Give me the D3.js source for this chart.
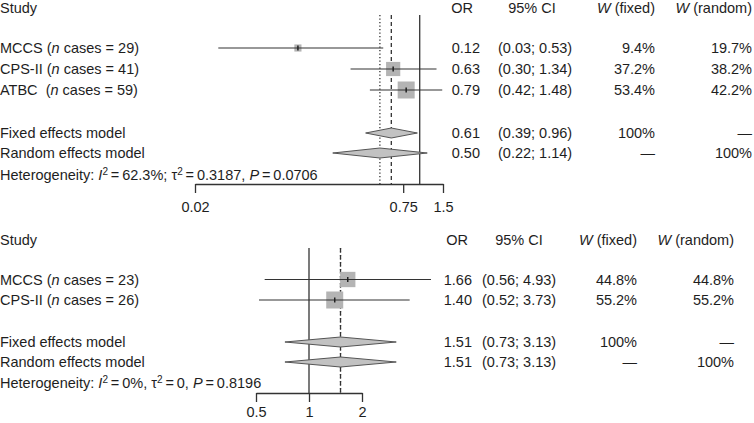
<!DOCTYPE html>
<html>
<head>
<meta charset="utf-8">
<script src="https://cdn.jsdelivr.net/npm/d3@7"></script>
<style>
  body { margin: 0; background: #fff; }
  svg text { font-family: "Liberation Sans", Arial, sans-serif; font-size: 14.5px; fill: #1e1e1e; white-space: pre; }
</style>
</head>
<body>
<div id="forest"></div>
<script>
// panel 1
var labels_one = ["MCCS ", "CPS-II ", "ATBC  "];
var cases_one = [29, 41, 59];
var or_one = [0.12, 0.63, 0.79];
var lower_one = [0.03, 0.30, 0.42];
var upper_one = [0.53, 1.34, 1.48];
var w_fixed_one = [9.4, 37.2, 53.4];
var w_random_one = [19.7, 38.2, 42.2];
var pooled_one = [[0.61, 0.39, 0.96], [0.50, 0.22, 1.14]];
var het_one = ["62.3%;", "0.3187,", "0.0706"];
var ticks_one = [0.02, 0.75, 1.5];

// panel 2
var labels_two = ["MCCS ", "CPS-II "];
var cases_two = [23, 26];
var or_two = [1.66, 1.40];
var lower_two = [0.56, 0.52];
var upper_two = [4.93, 3.73];
var w_fixed_two = [44.8, 55.2];
var w_random_two = [44.8, 55.2];
var pooled_two = [[1.51, 0.73, 3.13], [1.51, 0.73, 3.13]];
var het_two = ["0%,", "0,", "0.8196"];
var ticks_two = [0.5, 1, 2];

var svg = d3.select("#forest").append("svg")
            .attr("width", 754)
            .attr("height", 423);

draw_panel({
    labels: labels_one, cases: cases_one, or: or_one, lower: lower_one, upper: upper_one,
    w_fixed: w_fixed_one, w_random: w_random_one, pooled: pooled_one, het: het_one, ticks: ticks_one,
    range: [195, 443], header_y: 12.5, rows_y: [48, 69, 90], fixed_y: 133, random_y: 153,
    het_y: 175, axis_y: 184, line_top: 15, tick_pad: 9,
    cols: {or_right: 480, ci_left: 498, ci_head: 532, or_head: 462, wf_right: 655, wr_right: 752}
});

draw_panel({
    labels: labels_two, cases: cases_two, or: or_two, lower: lower_two, upper: upper_two,
    w_fixed: w_fixed_two, w_random: w_random_two, pooled: pooled_two, het: het_two, ticks: ticks_two,
    range: [256, 362], header_y: 245, rows_y: [279.5, 300], fixed_y: 342, random_y: 362,
    het_y: 383, axis_y: 393, line_top: 248, tick_pad: 5,
    cols: {or_right: 472, ci_left: 482, ci_head: 519, or_head: 457, wf_right: 637, wr_right: 734}
});

function fmt2(v) { return d3.format(".2f")(v); }

function draw_panel(p)
{
    var g = svg.append("g");
    var x = d3.scaleLog().domain([p.ticks[0], p.ticks[p.ticks.length - 1]]).range(p.range);
    var base = 5;

    // header
    g.append("text").attr("x", 0).attr("y", p.header_y).text("Study");
    g.append("text").attr("x", p.cols.or_head).attr("y", p.header_y).attr("text-anchor", "middle").text("OR");
    g.append("text").attr("x", p.cols.ci_head).attr("y", p.header_y).attr("text-anchor", "middle").text("95% CI");
    var hf = g.append("text").attr("x", p.cols.wf_right).attr("y", p.header_y).attr("text-anchor", "end");
    hf.append("tspan").attr("font-style", "italic").text("W");
    hf.append("tspan").text(" (fixed)");
    var hr = g.append("text").attr("x", p.cols.wr_right).attr("y", p.header_y).attr("text-anchor", "end");
    hr.append("tspan").attr("font-style", "italic").text("W");
    hr.append("tspan").text(" (random)");

    // reference lines
    var line_bottom = p.axis_y;
    g.append("line").attr("x1", x(1)).attr("x2", x(1)).attr("y1", p.line_top).attr("y2", line_bottom)
     .attr("stroke", "#333").attr("stroke-width", 1.3);
    g.append("line").attr("x1", x(p.pooled[1][0])).attr("x2", x(p.pooled[1][0]))
     .attr("y1", p.line_top).attr("y2", line_bottom)
     .attr("stroke", "#333").attr("stroke-width", 1.3).attr("stroke-dasharray", "1.3,2.2");
    g.append("line").attr("x1", x(p.pooled[0][0])).attr("x2", x(p.pooled[0][0]))
     .attr("y1", p.line_top).attr("y2", line_bottom)
     .attr("stroke", "#333").attr("stroke-width", 1.3).attr("stroke-dasharray", "4,3");

    var max_w = d3.max(p.w_fixed);

    for (var i = 0; i < p.labels.length; i++)
    {
        var y = p.rows_y[i];
        var t = g.append("text").attr("x", 0).attr("y", y + base);
        t.append("tspan").text(p.labels[i] + "(");
        t.append("tspan").attr("font-style", "italic").text("n");
        t.append("tspan").text(" cases = " + p.cases[i] + ")");

        var side = 17 * Math.sqrt(p.w_fixed[i] / max_w);
        g.append("rect").attr("x", x(p.or[i]) - side / 2).attr("y", y - side / 2)
         .attr("width", side).attr("height", side).attr("fill", "#b4b4b4");
        g.append("line").attr("x1", x(p.lower[i])).attr("x2", x(p.upper[i])).attr("y1", y).attr("y2", y)
         .attr("stroke", "#333").attr("stroke-width", 1.2);
        g.append("line").attr("x1", x(p.or[i])).attr("x2", x(p.or[i])).attr("y1", y - 2.5).attr("y2", y + 2.5)
         .attr("stroke", "#222").attr("stroke-width", 1.5);

        g.append("text").attr("x", p.cols.or_right).attr("y", y + base).attr("text-anchor", "end").text(fmt2(p.or[i]));
        g.append("text").attr("x", p.cols.ci_left).attr("y", y + base)
         .text("(" + fmt2(p.lower[i]) + "; " + fmt2(p.upper[i]) + ")");
        g.append("text").attr("x", p.cols.wf_right).attr("y", y + base).attr("text-anchor", "end").text(p.w_fixed[i] + "%");
        g.append("text").attr("x", p.cols.wr_right).attr("y", y + base).attr("text-anchor", "end").text(p.w_random[i] + "%");
    }

    var model_names = ["Fixed effects model", "Random effects model"];
    var model_y = [p.fixed_y, p.random_y];
    var wf_text = ["100%", "\u2014"];
    var wr_text = ["\u2014", "100%"];
    for (var m = 0; m < 2; m++)
    {
        var my = model_y[m];
        var est = p.pooled[m];
        g.append("text").attr("x", 0).attr("y", my + base).text(model_names[m]);
        var diamond = [[x(est[1]), my], [x(est[0]), my - 5], [x(est[2]), my], [x(est[0]), my + 5]];
        g.append("path").datum(diamond)
         .attr("d", d3.line().curve(d3.curveLinearClosed))
         .attr("fill", "#c2c2c2").attr("stroke", "#555").attr("stroke-width", 1);
        g.append("text").attr("x", p.cols.or_right).attr("y", my + base).attr("text-anchor", "end").text(fmt2(est[0]));
        g.append("text").attr("x", p.cols.ci_left).attr("y", my + base)
         .text("(" + fmt2(est[1]) + "; " + fmt2(est[2]) + ")");
        g.append("text").attr("x", p.cols.wf_right).attr("y", my + base).attr("text-anchor", "end").text(wf_text[m]);
        g.append("text").attr("x", p.cols.wr_right).attr("y", my + base).attr("text-anchor", "end").text(wr_text[m]);
    }

    // heterogeneity, spaced like R plotmath
    var thin = "\u2009";
    var h = g.append("text").attr("x", 0).attr("y", p.het_y + base);
    h.append("tspan").text("Heterogeneity: ");
    h.append("tspan").attr("font-style", "italic").text("I");
    h.append("tspan").attr("font-size", "10px").attr("dy", -5).text("2");
    h.append("tspan").attr("dy", 5).text(thin + "=" + thin + p.het[0] + " \u03c4");
    h.append("tspan").attr("font-size", "10px").attr("dy", -5).text("2");
    h.append("tspan").attr("dy", 5).text(thin + "=" + thin + p.het[1] + " ");
    h.append("tspan").attr("font-style", "italic").text("P");
    h.append("tspan").text(thin + "=" + thin + p.het[2]);

    // axis
    var axis = d3.axisBottom(x).tickValues(p.ticks).tickSize(9).tickSizeOuter(0).tickPadding(p.tick_pad)
                 .tickFormat(function (d) { return String(d); });
    var ag = g.append("g").attr("transform", "translate(0," + p.axis_y + ")").call(axis);
    ag.attr("font-family", null).attr("font-size", null);
    ag.selectAll("path").attr("stroke", "#333").attr("stroke-width", 1.3);
    ag.selectAll("line").attr("stroke", "#333").attr("stroke-width", 1.3);
    ag.selectAll("text").attr("fill", "#1e1e1e");
}
</script>
</body>
</html>
